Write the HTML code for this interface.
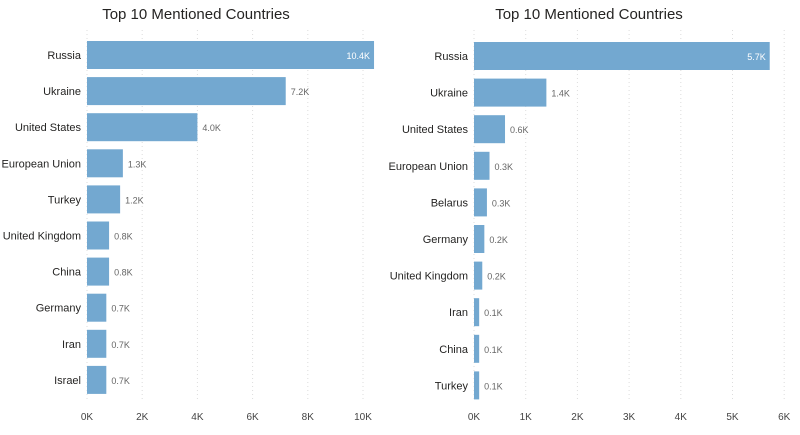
<!DOCTYPE html>
<html><head><meta charset="utf-8"><style>
body{margin:0;background:#fff;width:800px;height:430px;overflow:hidden;font-family:"Liberation Sans",sans-serif}
svg text{font-family:"Liberation Sans",sans-serif}
</style></head><body>
<svg id="c" width="800" height="430"></svg>
<script>
const leftCategories=["Russia","Ukraine","United States","European Union","Turkey","United Kingdom","China","Germany","Iran","Israel"];
const leftValues=[10.4,7.2,4.0,1.3,1.2,0.8,0.8,0.7,0.7,0.7];
const leftTicks=[0,2,4,6,8,10];
const rightCategories=["Russia","Ukraine","United States","European Union","Belarus","Germany","United Kingdom","Iran","China","Turkey"];
const rightValues=[5.72,1.4,0.6,0.3,0.25,0.2,0.16,0.1,0.1,0.1];
const rightTicks=[0,1,2,3,4,5,6];
const NS="http://www.w3.org/2000/svg";
const svg=document.getElementById('c');
function mk(t,a,p){const e=document.createElementNS(NS,t);for(const k in a)e.setAttribute(k,a[k]);(p||svg).appendChild(e);return e;}
function chart(name,cats,vals,ticks,x0,ppk,y0,pitch,titleX){
  const g=mk('g',{});
  
  
  const xs=v=>x0+v*ppk;
  const t=mk('text',{x:titleX,y:19,'text-anchor':'middle','font-size':15,fill:'#252423'},g);
  t.textContent='Top 10 Mentioned Countries';
  
  
  ticks.forEach(v=>{
    const l=mk('line',{x1:xs(v),x2:xs(v),y1:30,y2:402,stroke:'#ddd','stroke-dasharray':'1 3'},g);
    
    
    const tt=mk('text',{x:xs(v),y:420,'text-anchor':'middle','font-size':10,fill:'#444'},g);
    tt.textContent=v+'K';
    
    
  });
  cats.forEach((c,i)=>{
    const cy=y0+i*pitch;
    const lb=mk('text',{x:x0-6,y:cy+4,'text-anchor':'end','font-size':11,fill:'#252423'},g);
    lb.textContent=c;
    
    
    const w=xs(vals[i])-x0;
    const r=mk('rect',{x:x0,y:cy-14,width:w,height:28,fill:'#73a8d0'},g);
    
    
    const inside=i===0;
    const vl=mk('text',{x:inside?xs(vals[i])-4:xs(vals[i])+5,y:cy+4,'text-anchor':inside?'end':'start','font-size':9,fill:inside?'#fff':'#666'},g);
    vl.textContent=vals[i].toFixed(1)+'K';
    
    
  });
}
chart('left-bar-chart',leftCategories,leftValues,leftTicks,87,27.6,55,36.1,196);
chart('right-bar-chart',rightCategories,rightValues,rightTicks,474,51.7,56,36.6,589);
</script>
</body></html>
